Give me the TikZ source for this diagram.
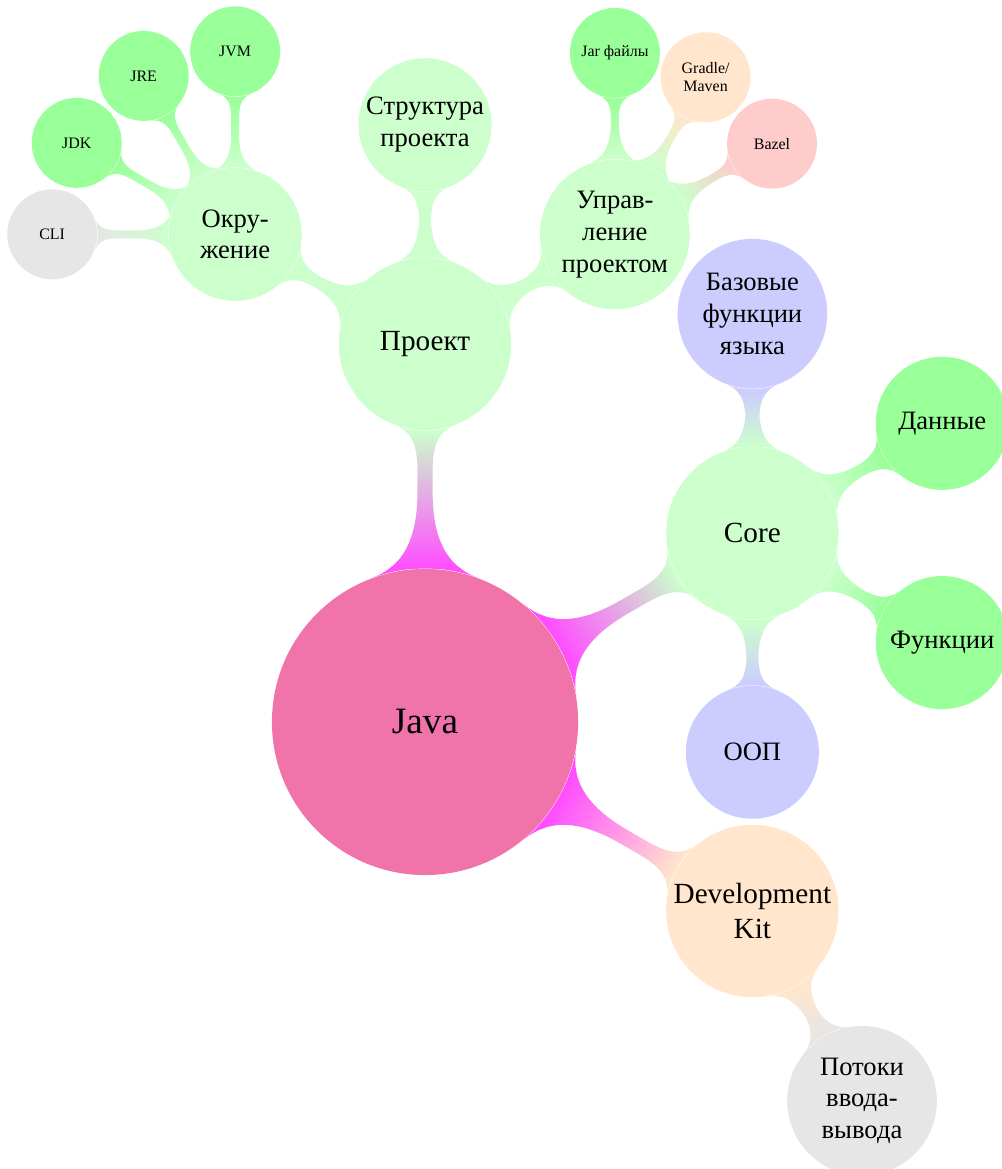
\documentclass[tikz,border=0pt]{standalone}
\usepackage{fontspec}
\setmainfont{Liberation Serif}
\usetikzlibrary{mindmap,backgrounds,positioning}

\definecolor{javapink}{RGB}{240,115,170}
\definecolor{barmagenta}{RGB}{255,77,255}
\definecolor{palegreen}{RGB}{204,255,204}
\definecolor{brightgreen}{RGB}{153,255,153}
\definecolor{lavender}{RGB}{204,204,255}
\definecolor{peach}{RGB}{255,230,204}
\definecolor{lightgrey}{RGB}{230,230,230}
\definecolor{rosepink}{RGB}{255,204,204}

\tikzset{
  bubble/.style={circle, inner sep=0pt, align=center, text=black},
  rootbubble/.style={bubble, minimum size=4.05cm, font=\fontsize{14}{17}\selectfont},
  mainbubble/.style={bubble, minimum size=2.28cm, font=\fontsize{11}{13.5}\selectfont},
  subbubble/.style={bubble, minimum size=1.76cm, font=\fontsize{10}{12}\selectfont},
  bigsub/.style={subbubble, minimum size=1.98cm},
  leafbubble/.style={bubble, minimum size=1.19cm, font=\fontsize{6}{6.8}\selectfont},
  link/.style args={#1 to #2}{circle connection bar switch color=from (#1) to (#2)},
}

\begin{document}
\begin{tikzpicture}
\useasboundingbox (-5.622,-5.913) rectangle (7.619,9.550);

% root and first ring
\node[rootbubble, fill=javapink] (java) {Java};
\path (java) ++(90:5) node[mainbubble, fill=palegreen] (proj) {Проект};
\path (java) ++(30:5) node[mainbubble, fill=palegreen] (core) {Core};
\path (java) ++(-30:5) node[mainbubble, fill=peach] (devkit) {Development\\Kit};

% project branch
\path (proj) ++(150:2.9) node[subbubble, fill=palegreen] (env) {Окру-\\жение};
\path (proj) ++(90:2.9) node[subbubble, fill=palegreen] (layout) {Структура\\проекта};
\path (proj) ++(30:2.9) node[bigsub, fill=palegreen] (build) {Управ-\\ление\\проектом};
\path (env) ++(180:2.42) node[leafbubble, fill=lightgrey] (cli) {CLI};
\path (env) ++(150:2.42) node[leafbubble, fill=brightgreen] (jdk) {JDK};
\path (env) ++(120:2.42) node[leafbubble, fill=brightgreen] (jre) {JRE};
\path (env) ++(90:2.42) node[leafbubble, fill=brightgreen] (jvm) {JVM};
\path (build) ++(90:2.4) node[leafbubble, fill=brightgreen] (jar) {Jar файлы};
\path (build) ++(60:2.4) node[leafbubble, fill=peach] (gradle) {Gradle/\\Maven};
\path (build) ++(30:2.4) node[leafbubble, fill=rosepink] (bazel) {Bazel};

% core branch
\path (core) ++(90:2.9) node[bigsub, fill=lavender] (basics) {Базовые\\функции\\языка};
\path (core) ++(30:2.9) node[subbubble, fill=brightgreen] (data) {Данные};
\path (core) ++(-30:2.9) node[subbubble, fill=brightgreen] (funcs) {Функции};
\path (core) ++(-90:2.9) node[subbubble, fill=lavender] (oop) {ООП};

% development kit branch
\path (devkit) ++(-60:2.9) node[bigsub, fill=lightgrey] (streams) {Потоки\\ввода-\\вывода};

\begin{pgfonlayer}{background}
  \path (java) to[link=barmagenta to palegreen] (proj);
  \path (java) to[link=barmagenta to palegreen] (core);
  \path (java) to[link=barmagenta to peach] (devkit);
  \path (proj) to[link=palegreen to palegreen] (env);
  \path (proj) to[link=palegreen to palegreen] (layout);
  \path (proj) to[link=palegreen to palegreen] (build);
  \path (env) to[link=palegreen to lightgrey] (cli);
  \path (env) to[link=palegreen to brightgreen] (jdk);
  \path (env) to[link=palegreen to brightgreen] (jre);
  \path (env) to[link=palegreen to brightgreen] (jvm);
  \path (build) to[link=palegreen to brightgreen] (jar);
  \path (build) to[link=palegreen to peach] (gradle);
  \path (build) to[link=palegreen to rosepink] (bazel);
  \path (core) to[link=palegreen to lavender] (basics);
  \path (core) to[link=palegreen to brightgreen] (data);
  \path (core) to[link=palegreen to brightgreen] (funcs);
  \path (core) to[link=palegreen to lavender] (oop);
  \path (devkit) to[link=peach to lightgrey] (streams);
\end{pgfonlayer}
\end{tikzpicture}
\end{document}
